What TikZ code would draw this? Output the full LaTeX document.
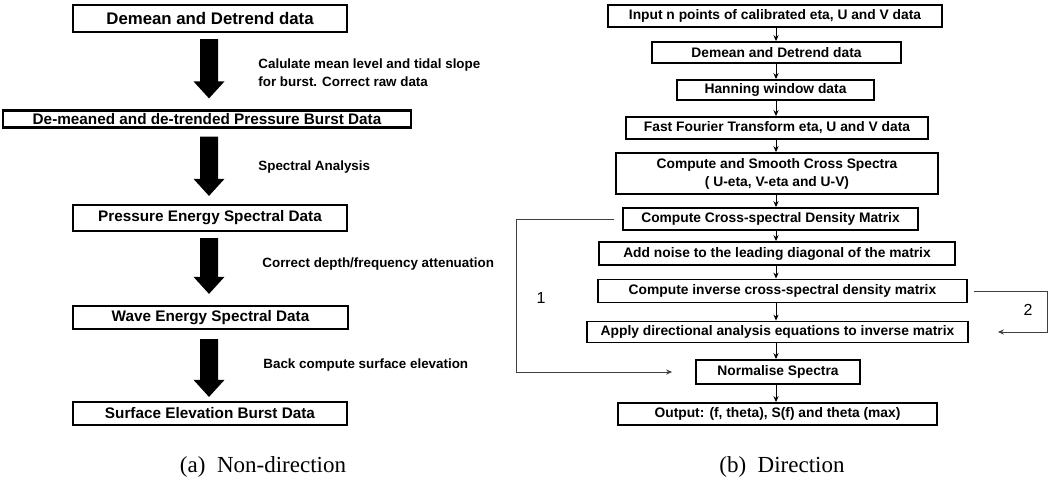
\documentclass[tikz,border=0pt]{standalone}
\usepackage{fontspec}
\setmainfont{Liberation Serif}
\setsansfont{Liberation Sans}
\usetikzlibrary{arrows.meta,calc}
\newcommand\fatarrow[2]{%
  \fill let \p1=(#1), \p2=(#2) in
    (\x1-4.5pt,\y1) -- (\x1+4.5pt,\y1) -- (\x1+4.5pt,\y2+8.5pt) -- (\x1+7.75pt,\y2+8.5pt)
    -- (\x1,\y2) -- (\x1-7.75pt,\y2+8.5pt) -- (\x1-4.5pt,\y2+8.5pt) -- cycle;}
\begin{document}
\begin{tikzpicture}[x=0.5pt,y=-0.5pt,
 lbox/.style={draw, line width=1.1pt, inner sep=0pt, font=\sffamily\bfseries\fontsize{7.65}{9}\selectfont},
 rbox/.style={draw, line width=0.9pt, inner sep=0pt, align=center, font=\sffamily\bfseries\fontsize{6.9}{9}\selectfont},
 lbl/.style={anchor=west, inner sep=0pt, align=left, font=\sffamily\bfseries\fontsize{6.7}{9}\selectfont},
 thinarrow/.style={line width=0.5pt, -{Stealth[length=3pt,width=2.6pt]}},
 loopline/.style={line width=0.45pt, draw=black!75, -{Stealth[length=3pt,width=2.6pt]}},
 num/.style={inner sep=0pt, font=\sffamily\fontsize{8}{9}\selectfont},
 caption/.style={inner sep=0pt, font=\rmfamily\fontsize{11.5}{13}\selectfont}]
\useasboundingbox (0,0) rectangle (1049,480);
% ---------- left column ----------
\coordinate (bx) at (209,0);
\node[lbox, minimum width=137pt, minimum height=13.5pt, font=\sffamily\bfseries\fontsize{8.4}{10}\selectfont] (L1) at (210,18.5) {Demean and Detrend data};
\node[lbox, minimum width=204pt, minimum height=8.5pt] (L2) at (207,119) {De-meaned and de-trended Pressure Burst Data};
\node[lbox, minimum width=137pt, minimum height=13pt] (L3) at (210,218) {Pressure Energy Spectral Data};
\node[lbox, minimum width=137.5pt, minimum height=11.5pt] (L4) at (210.5,317.5) {Wave Energy Spectral Data};
\node[lbox, minimum width=137pt, minimum height=11.5pt] (L5) at (210,413.5) {Surface Elevation Burst Data};
\fatarrow{[yshift=-3pt]L1.south -| bx}{[yshift=5.5pt]L2.north -| bx}
\fatarrow{[yshift=-4pt]L2.south -| bx}{[yshift=4pt]L3.north -| bx}
\fatarrow{[yshift=-3pt]L3.south -| bx}{[yshift=5.5pt]L4.north -| bx}
\fatarrow{[yshift=-4.5pt]L4.south -| bx}{[yshift=2pt]L5.north -| bx}
\node[lbl] (t1) at (258,73) {Calulate mean level and tidal slope\\for burst. Correct raw data};
\node[lbl] (t2) at (258,167) {Spectral Analysis};
\node[lbl] (t3) at (262,264) {Correct depth/frequency attenuation};
\node[lbl] (t4) at (263,365) {Back compute surface elevation};
\node[caption] (ca) at (263,467) {(a)\ \ Non-direction};
% ---------- right column ----------
\coordinate (ax) at (776,0);
\node[rbox, minimum width=167pt, minimum height=11pt] (R1) at (775,16) {Input n points of calibrated eta, U and V data};
\node[rbox, minimum width=124.5pt, minimum height=10.5pt] (R2) at (776.5,52.5) {Demean and Detrend data};
\node[rbox, minimum width=98.5pt, minimum height=10pt] (R3) at (775.5,90) {Hanning window data};
\node[rbox, minimum width=151pt, minimum height=11pt] (R4) at (777,128) {Fast Fourier Transform eta, U and V data};
\node[rbox, minimum width=161pt, minimum height=20.5pt] (R5) at (777,173.5) {Compute and Smooth Cross Spectra\\( U-eta, V-eta and U-V)};
\node[rbox, minimum width=147.5pt, minimum height=11pt] (R6) at (770.5,219) {Compute Cross-spectral Density Matrix};
\node[rbox, minimum width=178pt, minimum height=11.5pt] (R7) at (777,253.5) {Add noise to the leading diagonal of the matrix};
\node[rbox, minimum width=184.5pt, minimum height=11.5pt] (R8) at (782.5,291) {Compute inverse cross-spectral density matrix};
\node[rbox, minimum width=190.5pt, minimum height=10.5pt] (R9) at (777.5,332) {Apply directional analysis equations to inverse matrix};
\node[rbox, minimum width=82pt, minimum height=12pt] (R10) at (778,372) {Normalise Spectra};
\node[rbox, minimum width=159.5pt, minimum height=11pt] (R11) at (777.5,414) {Output: (f, theta), S(f) and theta (max)};
\foreach \a/\b in {R1/R2,R2/R3,R3/R4,R4/R5,R5/R6,R6/R7,R7/R8,R8/R9,R9/R10,R10/R11}
  \draw[thinarrow] (\a.south -| ax) -- (\b.north -| ax);
\draw[loopline] ([xshift=-4pt]R6.west) -- ++(-98,0) |- ([xshift=-11.5pt]R10.west);
\draw[loopline] ([xshift=3pt]R8.east) -- ++(74,0) |- ([xshift=14.5pt]R9.east);
\node[num] (n1) at (541,298) {1};
\node[num] (n2) at (1028,310) {2};
\node[caption] (cb) at (782,467) {(b)\ \ Direction};
\end{tikzpicture}
\end{document}
